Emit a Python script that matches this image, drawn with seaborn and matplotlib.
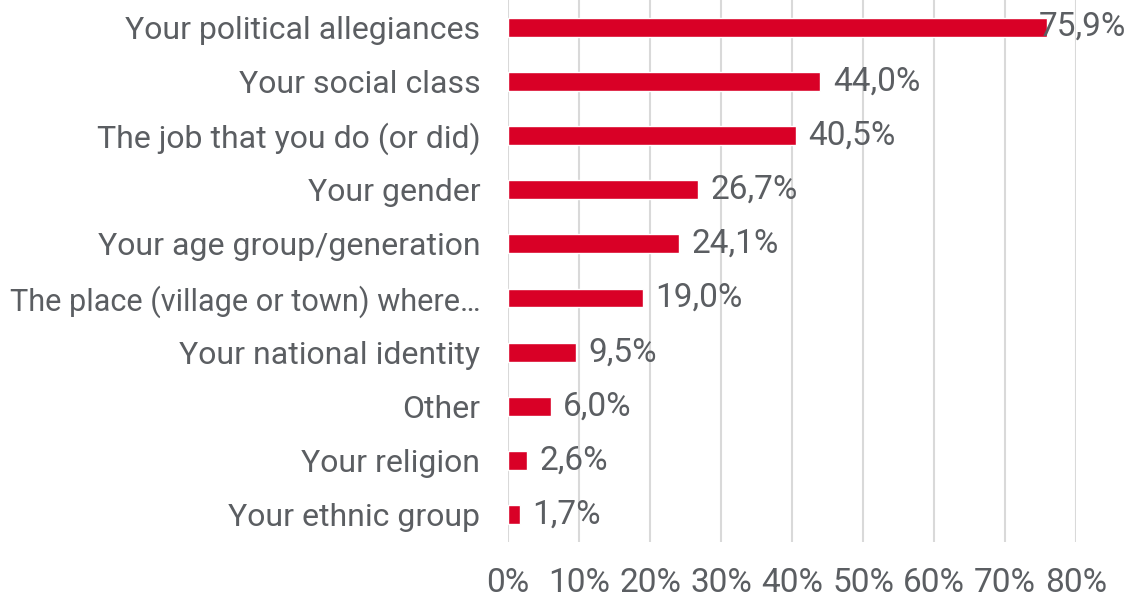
import matplotlib
matplotlib.use("Agg")
import matplotlib.pyplot as plt
import seaborn as sns
import pandas as pd

categories = [
    "Your political allegiances",
    "Your social class",
    "The job that you do (or did)",
    "Your gender",
    "Your age group/generation",
    "The place (village or town) where…",
    "Your national identity",
    "Other",
    "Your religion",
    "Your ethnic group",
]
values = [75.9, 44.0, 40.5, 26.7, 24.1, 19.0, 9.5, 6.0, 2.6, 1.7]
x_ticks = [0, 10, 20, 30, 40, 50, 60, 70, 80]

BAR = "#D90026"
TEXT = "#5B5E62"
GRID = "#D9D9D9"
FS_CAT = 23
FS_NUM = 24

sns.set_theme(style="white")
plt.rcParams["font.family"] = ["Roboto", "DejaVu Sans"]

df = pd.DataFrame({"category": categories, "value": values})

fig = plt.figure(figsize=(11.30, 5.98), dpi=100)
ax = fig.add_axes([0.4496, 0.094, 0.5027, 0.906])

sns.barplot(data=df, y="category", x="value", orient="h", color=BAR,
            width=0.35, saturation=1, ax=ax, zorder=3)

ax.set_xlim(0, 80)
ax.set_ylim(9.5, -0.5)
ax.set_xticks(x_ticks)
ax.set_xticklabels([f"{t}%" for t in x_ticks])
ax.grid(axis="x", color=GRID, linewidth=1.5, zorder=0)
ax.grid(axis="y", visible=False)
for s in ax.spines.values():
    s.set_visible(False)
ax.set_xlabel("")
ax.set_ylabel("")
ax.tick_params(axis="x", length=0, pad=18, labelsize=FS_NUM, labelcolor=TEXT)
ax.tick_params(axis="y", length=0, pad=20, labelsize=FS_CAT, labelcolor=TEXT)

labels = []
for container in ax.containers:
    labels = ax.bar_label(container,
                          labels=[f"{v:.1f}%".replace(".", ",") for v in values],
                          padding=9, fontsize=FS_NUM, color=TEXT, zorder=4)

fig.canvas.draw()
renderer = fig.canvas.get_renderer()
fig_w = fig.bbox.width

# Keep value labels inside the figure: pull any overflowing label back left
for t in labels:
    bb = t.get_window_extent(renderer)
    overflow = bb.x1 - (fig_w - 4)
    if overflow > 0:
        x, y = t.xyann
        t.xyann = (x - overflow * 72 / fig.dpi, y)

# Shrink any category label that would run past the left edge
for t in ax.get_yticklabels():
    bb = t.get_window_extent(renderer)
    avail = bb.x1 - 10
    if bb.width > avail:
        t.set_fontsize(FS_CAT * avail / bb.width)

fig.savefig("out.png", dpi=100)
